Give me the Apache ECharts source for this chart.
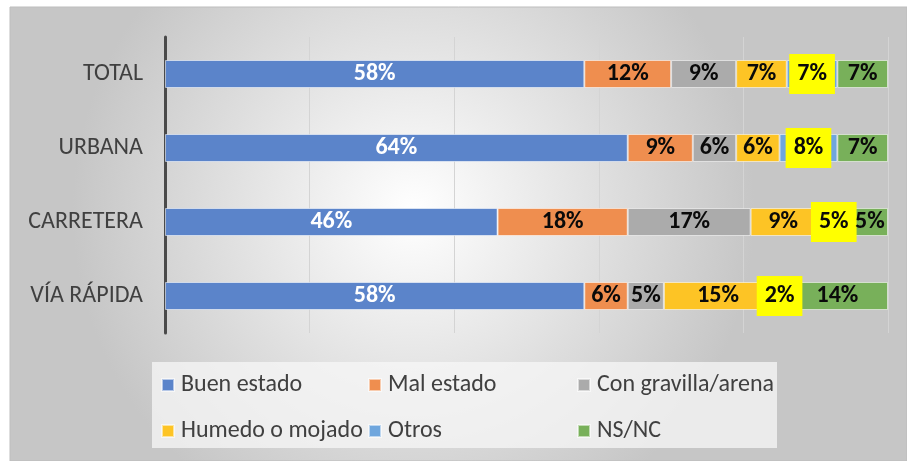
<!DOCTYPE html>
<html><head><meta charset="utf-8">
<script src="https://cdn.jsdelivr.net/npm/echarts@6/dist/echarts.min.js"></script>
<style>html,body{margin:0;padding:0;background:#fff}#c{width:907px;height:461px}</style>
</head><body><div id="c"></div>
<script>
const categories = ['TOTAL', 'URBANA', 'CARRETERA', 'VÍA RÁPIDA'];
const seriesNames = ['Buen estado', 'Mal estado', 'Con gravilla/arena', 'Humedo o mojado', 'Otros', 'NS/NC'];
const buenEstado = [58, 64, 46, 58];
const malEstado = [12, 9, 18, 6];
const conGravilla = [9, 6, 17, 5];
const humedo = [7, 6, 9, 15];
const otros = [7, 8, 5, 2];
const nsnc = [7, 7, 5, 14];
const xTicks = [0, 20, 40, 60, 80, 100];

const values = [buenEstado, malEstado, conGravilla, humedo, otros, nsnc];
const colors = ['#5b84ca', '#ef8e4f', '#ababab', '#fdc425', '#6fa6dd', '#78b05a'];
const FONT = "Carlito, 'Open Sans', sans-serif";

const chart = echarts.init(document.getElementById('c'), null, {renderer: 'canvas'});

const series = seriesNames.map((name, i) => {
  const label = {
    show: true,
    position: 'inside',
    formatter: p => p.value + '%',
    fontFamily: FONT,
    fontWeight: 'bold',
    fontSize: 24,
    lineHeight: 24,
    color: i === 0 ? '#ffffff' : '#0a0a0a'
  };
  if (name === 'Otros') {
    label.backgroundColor = '#ffff00';
    label.padding = [9, 8, 7, 8];
  }
  return {
    name, type: 'bar', stack: 'all', barWidth: 28,
    data: values[i],
    itemStyle: {color: colors[i], borderColor: 'rgba(255,255,255,0.55)', borderWidth: 1},
    label, z: 2
  };
});

const legendPos = [[161, 373], [368, 373], [577, 373], [161, 419], [368, 419], [577, 419]];
const legends = seriesNames.map((n, i) => ({
  data: [n], left: legendPos[i][0], top: legendPos[i][1],
  itemWidth: 12, itemHeight: 12, itemGap: 0, padding: 0,
  icon: 'rect',
  textStyle: {fontFamily: FONT, fontSize: 24, color: '#404040', padding: [0, 0, 0, 2]},
  selectedMode: false
}));

chart.setOption({
  animation: false,
  graphic: [
    {type: 'rect', shape: {x: 10, y: 7, width: 897, height: 454}, z: -10,
     style: {fill: new echarts.graphic.RadialGradient(0.45, 0.45, 0.75, [
       {offset: 0, color: '#ffffff'}, {offset: 1, color: '#c6c6c6'}]),
       stroke: '#bdbdbd', lineWidth: 1}},
    {type: 'rect', shape: {x: 152, y: 362, width: 625, height: 86}, z: -9,
     style: {fill: 'rgba(247,247,247,0.75)'}}
  ],
  grid: {left: 165, right: 19, top: 37, height: 296, containLabel: false},
  legend: legends,
  xAxis: {
    type: 'value', min: xTicks[0], max: xTicks[xTicks.length - 1], interval: 20,
    axisLabel: {show: false}, axisLine: {show: false}, axisTick: {show: false},
    splitLine: {lineStyle: {color: '#d4d4d4', width: 1}}
  },
  yAxis: {
    type: 'category', data: categories, inverse: true,
    axisLine: {lineStyle: {color: '#4a4a4a', width: 3}},
    axisTick: {show: false},
    axisLabel: {fontFamily: FONT, fontSize: 24, color: '#404040', margin: 22}
  },
  series
});
</script></body></html>
